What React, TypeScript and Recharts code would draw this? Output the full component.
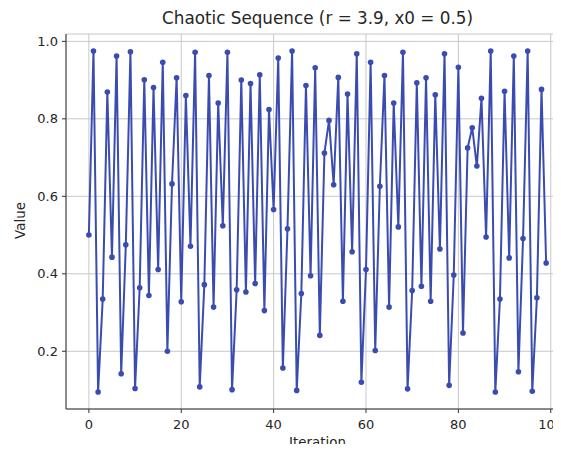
import { LineChart, Line, XAxis, YAxis, CartesianGrid } from "recharts";

// values, iteration 0..99
const values = [
  0.5, 0.975, 0.095, 0.335, 0.869, 0.443, 0.962, 0.142, 0.475, 0.973,
  0.104, 0.364, 0.901, 0.344, 0.881, 0.411, 0.946, 0.2, 0.632, 0.906,
  0.328, 0.86, 0.471, 0.972, 0.108, 0.372, 0.912, 0.314, 0.841, 0.524,
  0.972, 0.101, 0.359, 0.9, 0.353, 0.891, 0.375, 0.914, 0.305, 0.824,
  0.566, 0.957, 0.157, 0.516, 0.975, 0.099, 0.349, 0.886, 0.395, 0.932,
  0.241, 0.712, 0.796, 0.63, 0.907, 0.329, 0.864, 0.457, 0.968, 0.12,
  0.411, 0.946, 0.202, 0.626, 0.912, 0.314, 0.841, 0.521, 0.972, 0.103,
  0.357, 0.893, 0.368, 0.906, 0.329, 0.862, 0.464, 0.968, 0.112, 0.397,
  0.933, 0.247, 0.725, 0.777, 0.678, 0.853, 0.495, 0.975, 0.095, 0.335,
  0.871, 0.441, 0.962, 0.147, 0.491, 0.975, 0.097, 0.338, 0.876, 0.428,
];
const xTicks = [0, 20, 40, 60, 80, 100];
const yTicks = [0.2, 0.4, 0.6, 0.8, 1.0];

const data = values.map((value, iteration) => ({ iteration, value }));

const font = "'DejaVu Sans', sans-serif";
const textColor = "#262626";
const lineColor = "#3b4cb0";

const App = () => {
  return (
    <div
      style={{
        position: "relative",
        margin: -8,
        width: 561,
        height: 452,
        overflow: "hidden",
        background: "#fff",
        fontFamily: font,
      }}
    >
      <div
        style={{
          position: "absolute",
          left: 66,
          width: 503,
          top: 8,
          textAlign: "center",
          fontSize: 16.8,
          color: textColor,
        }}
      >
        Chaotic Sequence (r = 3.9, x0 = 0.5)
      </div>
      <div
        style={{
          position: "absolute",
          left: 66,
          width: 503,
          top: 435,
          textAlign: "center",
          fontSize: 13.4,
          color: textColor,
        }}
      >
        Iteration
      </div>
      <div
        style={{
          position: "absolute",
          left: -30,
          width: 100,
          top: 213,
          textAlign: "center",
          fontSize: 13.4,
          color: textColor,
          transform: "rotate(-90deg)",
        }}
      >
        Value
      </div>
      <LineChart
        width={600}
        height={452}
        data={data}
        margin={{ top: 34, right: 31, left: 0, bottom: 0 }}
        style={{ position: "absolute", left: 0, top: 0 }}
      >
        <CartesianGrid stroke="#c8c8c8" strokeWidth={1} />
        <XAxis
          dataKey="iteration"
          type="number"
          domain={[-4.95, 103.95]}
          ticks={xTicks}
          height={43}
          tickSize={4}
          tickMargin={7}
          stroke="#333"
          tick={{ fill: textColor, fontSize: 13, fontFamily: font }}
        />
        <XAxis
          xAxisId="top"
          orientation="top"
          dataKey="iteration"
          type="number"
          domain={[-4.95, 103.95]}
          height={0}
          tick={false}
          tickLine={false}
          stroke="#333"
        />
        <YAxis
          type="number"
          domain={[0.051, 1.019]}
          ticks={yTicks}
          width={66}
          tickSize={4}
          tickMargin={4}
          stroke="#333"
          tickFormatter={(v: number) => v.toFixed(1)}
          tick={{ fill: textColor, fontSize: 13, fontFamily: font }}
        />
        <Line
          dataKey="value"
          stroke={lineColor}
          strokeWidth={2}
          dot={{ r: 2.8, fill: lineColor, stroke: lineColor, strokeWidth: 0 }}
          activeDot={false}
          isAnimationActive={false}
        />
      </LineChart>
    </div>
  );
};

export default App;
